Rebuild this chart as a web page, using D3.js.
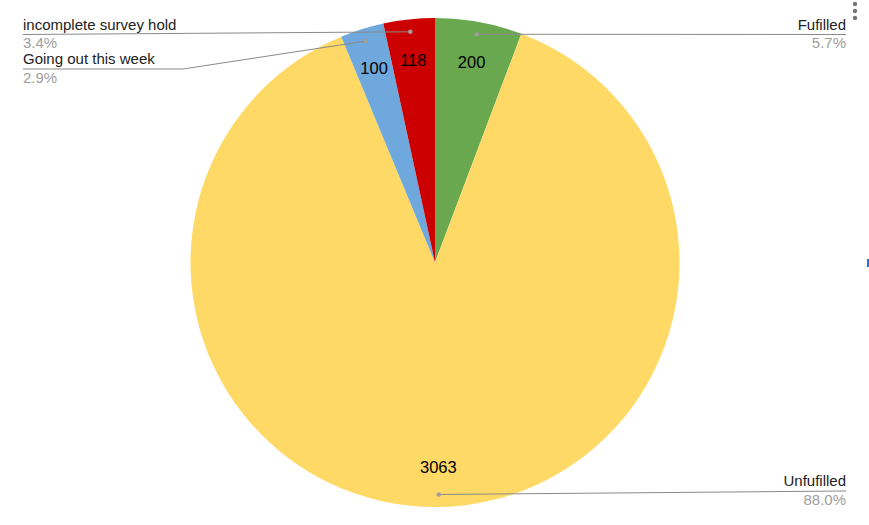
<!DOCTYPE html>
<html>
<head>
<meta charset="utf-8">
<script src="https://cdn.jsdelivr.net/npm/d3@7"></script>
<style>
  html, body { margin: 0; padding: 0; background: #fff; }
  svg { display: block; font-family: "Liberation Sans", Arial, sans-serif; }
</style>
</head>
<body>
<svg id="chart" width="869" height="525"></svg>
<script>
// ---- Data ----
const categories = ["Fufilled", "Unfufilled", "Going out this week", "incomplete survey hold"];
const values = [200, 3063, 100, 118];
const colors = ["#6aa84f", "#ffd966", "#6fa8dc", "#cc0000"];

// ---- Layout ----
const W = 869, H = 525;
const cx = 435, cy = 262.5, R = 244.5;
const labelR = 204, dotR = 232;
// outside label placement: side, y of the underline, optional elbow x
const outside = [
  { side: "right", y: 34.5 },
  { side: "right", y: 491 },
  { side: "left", y: 69, elbow: 183 },
  { side: "left", y: 34.5 }
];
const leftX = 23, rightX = 846;

const svg = d3.select("#chart");
const g = svg.append("g").attr("transform", `translate(${cx},${cy})`);

const total = d3.sum(values);
const data = categories.map((c, i) => ({ name: c, value: values[i], color: colors[i], i }));

const pie = d3.pie().value(d => d.value).sort(null);
const arcs = pie(data);
const arc = d3.arc().innerRadius(0).outerRadius(R);
const labelArc = d3.arc().innerRadius(labelR).outerRadius(labelR);
const dotArc = d3.arc().innerRadius(dotR).outerRadius(dotR);

g.selectAll("path.slice").data(arcs).enter().append("path")
  .attr("class", "slice")
  .attr("d", arc)
  .attr("fill", d => d.data.color);

g.selectAll("text.val").data(arcs).enter().append("text")
  .attr("class", "val")
  .attr("transform", d => `translate(${labelArc.centroid(d)})`)
  .attr("text-anchor", "middle")
  .attr("dy", "0.38em")
  .attr("font-size", 16.5)
  .attr("fill", "#000")
  .text(d => d.data.value);

// leader lines + outside labels
const fmt = d3.format(".1f");
arcs.forEach((d, i) => {
  const o = outside[i];
  const [dx, dy] = dotArc.centroid(d);
  const px = cx + dx, py = cy + dy;
  const endX = o.side === "right" ? rightX : leftX;
  const pts = [[px, py]];
  if (o.elbow !== undefined) pts.push([o.elbow, o.y]);
  pts.push([endX, o.y]);
  svg.append("path")
    .attr("d", d3.line()(pts))
    .attr("fill", "none")
    .attr("stroke", "#8a8a8a")
    .attr("stroke-width", 1);
  svg.append("circle")
    .attr("cx", px).attr("cy", py).attr("r", 2.3)
    .attr("fill", "#9e9e9e");
  const anchor = o.side === "right" ? "end" : "start";
  svg.append("text")
    .attr("x", endX).attr("y", o.y - 5)
    .attr("text-anchor", anchor)
    .attr("font-size", 15)
    .attr("fill", "#222")
    .text(d.data.name);
  svg.append("text")
    .attr("x", endX).attr("y", o.y + 13.5)
    .attr("text-anchor", anchor)
    .attr("font-size", 15)
    .attr("fill", "#9e9e9e")
    .text(fmt(d.data.value / total * 100) + "%");
});

// menu dots (top right)
[4, 11, 18].forEach(y => {
  svg.append("circle").attr("cx", 855).attr("cy", y).attr("r", 2.2).attr("fill", "#757575");
});
// small blue edge mark
svg.append("rect").attr("x", 867).attr("y", 259).attr("width", 2).attr("height", 8).attr("fill", "#1a73e8");
</script>
</body>
</html>
